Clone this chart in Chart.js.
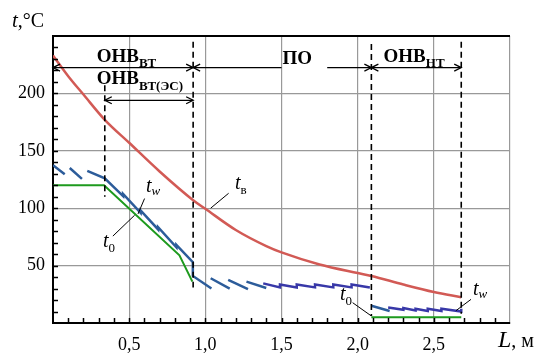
<!DOCTYPE html>
<html>
<head>
<meta charset="utf-8">
<script src="https://cdn.jsdelivr.net/npm/chart.js@4.4.0/dist/chart.umd.min.js"></script>
<style>
  body { margin: 0; background: #fff; }
  canvas { display: block; }
</style>
</head>
<body>
<canvas id="chart" width="537" height="358"></canvas>
<script>
// air temperature t_в
const tvL = [0, 0.1, 0.2, 0.34, 0.5, 0.7, 0.92, 1.0, 1.2, 1.4, 1.5, 1.75, 2.0, 2.09, 2.3, 2.5, 2.68];
const tvT = [233, 215, 199, 177, 157, 132, 107, 99.5, 81, 67, 61.5, 51, 43.5, 41, 33.5, 27, 22.5];

// t_0 (null = gap)
const t0L = [0, 0.335, 0.83, 0.915, 1.5, 2.09, 2.68];
const t0T = [120, 120, 59, 36, null, 5, 5];

// t_w, first (steel blue) part
const tw1L = [0, 0.077, 0.09, 0.11, 0.19, 0.2, 0.225, 0.34, 0.46, 0.46, 0.575, 0.575, 0.69, 0.69, 0.81, 0.81, 0.918, 0.918, 1.04, 1.04,
  1.035, 1.16, 1.16, 1.15, 1.28, 1.28, 1.27, 1.40, 1.7, 2.09, 2.21];
const tw1T = [137.5, 129.5, null, 135, 125.5, null, 132.5, 126, 110.5, 112.5, 96, 98, 81.5, 83.5, 66, 68, 53, 41, 30, null,
  39, 30, null, 37.5, 29.5, null, 36, 30.5, null, 15, 10.5];

// t_w, second (violet) part
const tw2L = [1.38, 1.49, 1.49, 1.60, 1.60, 1.72, 1.72, 1.84, 1.84, 1.96, 1.96, 2.08, 2.15,
  2.2, 2.30, 2.30, 2.38, 2.38, 2.46, 2.46, 2.55, 2.55, 2.68, 2.68];
const tw2T = [34.5, 31, 33.5, 31, 33.5, 31, 33.5, 31, 33.5, 31, 33.5, 31, null,
  13.5, 11.5, 13, 11, 12.5, 10.5, 12.5, 10.5, 12.5, 10, 12.5];

// zone boundaries (dashed lines)
const zoneL = [0.34, 0.92, 2.09, 2.68];
const zoneTop = [207, 245, 243, 245];
const zoneBottom = [110, 31, 6, 8];

const xTicks = [0.5, 1.0, 1.5, 2.0, 2.5];
const yTicks = [50, 100, 150, 200];

const pts = (L, T) => L.map((x, i) => ({ x: x, y: T[i] }));

const SERIF = '"Liberation Serif", "DejaVu Serif", serif';

function subText(ctx, main, sub, x, y, mainFont, subFont, dy) {
  ctx.font = mainFont;
  ctx.fillText(main, x, y);
  const w = ctx.measureText(main).width;
  ctx.font = subFont;
  ctx.fillText(sub, x + w, y + dy);
}

function arrowHead(ctx, px, py, dir) {
  ctx.beginPath();
  ctx.moveTo(px - dir * 7, py - 3.5);
  ctx.lineTo(px, py);
  ctx.lineTo(px - dir * 7, py + 3.5);
  ctx.stroke();
}

const overlay = {
  id: 'overlay',
  afterDatasetsDraw(chart) {
    const { ctx, chartArea: a, scales: { x, y } } = chart;
    const px = v => x.getPixelForValue(v);
    const py = v => y.getPixelForValue(v);
    ctx.save();

    // top border
    ctx.strokeStyle = '#000';
    ctx.lineWidth = 2;
    ctx.beginPath();
    ctx.moveTo(a.left, a.top);
    ctx.lineTo(a.right, a.top);
    ctx.stroke();

    // inner tick marks
    ctx.lineWidth = 1.5;
    for (let v = 10; v < 250; v += 10) {
      ctx.beginPath();
      ctx.moveTo(a.left, Math.round(py(v)) + 0.5);
      ctx.lineTo(a.left + 5, Math.round(py(v)) + 0.5);
      ctx.stroke();
    }
    for (let i = 1; i < 30; i++) {
      ctx.beginPath();
      ctx.moveTo(Math.round(px(i / 10)) + 0.5, a.bottom);
      ctx.lineTo(Math.round(px(i / 10)) + 0.5, a.bottom - 5);
      ctx.stroke();
    }

    // dashed zone lines
    ctx.setLineDash([6, 4]);
    ctx.lineWidth = 1.6;
    zoneL.forEach((L, i) => {
      ctx.beginPath();
      ctx.moveTo(px(L), py(zoneTop[i]));
      ctx.lineTo(px(L), py(zoneBottom[i]));
      ctx.stroke();
    });
    ctx.setLineDash([]);

    // dimension arrows
    ctx.lineWidth = 1.3;
    const r1 = py(222.5), r2 = py(194);
    const seg = (l1, l2, yy) => {
      ctx.beginPath();
      ctx.moveTo(px(l1), yy);
      ctx.lineTo(px(l2), yy);
      ctx.stroke();
    };
    seg(0, zoneL[1], r1);
    arrowHead(ctx, px(0), r1, -1);
    arrowHead(ctx, px(zoneL[1]), r1, 1);
    seg(zoneL[1], 1.5, r1);
    arrowHead(ctx, px(zoneL[1]), r1, -1);
    seg(1.8, zoneL[2], r1);
    arrowHead(ctx, px(zoneL[2]), r1, 1);
    seg(zoneL[2], zoneL[3], r1);
    arrowHead(ctx, px(zoneL[2]), r1, -1);
    arrowHead(ctx, px(zoneL[3]), r1, 1);
    seg(zoneL[0], zoneL[1], r2);
    arrowHead(ctx, px(zoneL[0]), r2, -1);
    arrowHead(ctx, px(zoneL[1]), r2, 1);

    // zone names
    ctx.fillStyle = '#000';
    ctx.textBaseline = 'alphabetic';
    const bold = 'bold 19px ' + SERIF, boldSub = 'bold 13px ' + SERIF;
    subText(ctx, 'ОНВ', 'ВТ', px(0.287), 62, bold, boldSub, 5);
    subText(ctx, 'ОНВ', 'ВТ(ЭС)', px(0.287), 84, bold, boldSub, 6);
    ctx.font = bold;
    ctx.fillText('ПО', px(1.507), 64);
    subText(ctx, 'ОНВ', 'НТ', px(2.17), 62, bold, boldSub, 5);

    // curve labels with leaders
    const it = 'italic 20px ' + SERIF;
    const sub = '13px ' + SERIF, isub = 'italic 13px ' + SERIF;
    ctx.lineWidth = 1;
    const leader = (l1, t1, l2, t2) => {
      ctx.beginPath();
      ctx.moveTo(px(l1), py(t1));
      ctx.lineTo(px(l2), py(t2));
      ctx.stroke();
    };
    subText(ctx, 't', 'в', 235, 189, it, sub, 5);
    leader(1.153, 113, 1.035, 100);
    subText(ctx, 't', 'w', 146, 192, it, isub, 3);
    leader(0.601, 108.4, 0.558, 95);
    subText(ctx, 't', '0', 103, 247, it, sub, 5);
    leader(0.393, 75.7, 0.536, 93.9);
    subText(ctx, 't', '0', 340, 300, it, sub, 5);
    leader(1.967, 17.7, 2.088, 6.3);
    subText(ctx, 't', 'w', 473, 295, it, isub, 3);
    leader(2.744, 20.6, 2.645, 10.7);

    // axis titles
    ctx.font = 'italic 21px ' + SERIF;
    ctx.fillText('t', 12, 27);
    let w = ctx.measureText('t').width;
    ctx.font = '20px ' + SERIF;
    ctx.fillText(',°C', 12 + w, 27);
    ctx.font = 'italic 24px ' + SERIF;
    ctx.fillText('L', 498, 347);
    w = ctx.measureText('L').width;
    ctx.font = '20px ' + SERIF;
    ctx.fillText(', м', 498 + w, 347);

    ctx.restore();
  }
};

new Chart(document.getElementById('chart'), {
  type: 'line',
  data: {
    datasets: [
      { data: pts(tvL, tvT), borderColor: '#d25a55', borderWidth: 2.5, cubicInterpolationMode: 'monotone' },
      { data: pts(t0L, t0T), borderColor: '#1e9a1e', borderWidth: 2 },
      { data: pts(tw1L, tw1T), borderColor: '#2c5c9a', borderWidth: 2.5 },
      { data: pts(tw2L, tw2T), borderColor: '#3838a8', borderWidth: 2.5 }
    ]
  },
  options: {
    responsive: false,
    animation: false,
    devicePixelRatio: 1,
    spanGaps: false,
    elements: { point: { radius: 0 }, line: { borderCapStyle: 'butt' } },
    layout: { padding: { top: 36, right: 27, left: 0, bottom: 0 } },
    plugins: { legend: { display: false }, tooltip: { enabled: false } },
    scales: {
      x: {
        type: 'linear',
        min: 0,
        max: 3,
        afterFit: s => { s.height = 35; },
        border: { color: '#000', width: 2 },
        grid: {
          drawTicks: false,
          color: c => (xTicks.includes(Math.round(c.tick.value * 10) / 10) || Math.round(c.tick.value * 10) === 30) ? '#999' : 'rgba(0,0,0,0)',
          lineWidth: 1.2
        },
        ticks: {
          stepSize: 0.1,
          maxTicksLimit: 100,
          autoSkip: false,
          maxRotation: 0,
          padding: 11,
          color: '#000',
          font: { family: SERIF, size: 18 },
          callback: v => xTicks.includes(Math.round(v * 10) / 10) ? v.toFixed(1).replace('.', ',') : ''
        }
      },
      y: {
        min: 0,
        max: 250,
        afterFit: s => { s.width = 53; },
        border: { color: '#000', width: 2 },
        grid: {
          drawTicks: false,
          color: c => yTicks.includes(c.tick.value) ? '#999' : 'rgba(0,0,0,0)',
          lineWidth: 1.2
        },
        ticks: {
          stepSize: 10,
          maxTicksLimit: 100,
          autoSkip: false,
          padding: 8,
          color: '#000',
          font: { family: SERIF, size: 18 },
          callback: v => yTicks.includes(v) ? String(v) : ''
        }
      }
    }
  },
  plugins: [overlay]
});
</script>
</body>
</html>
